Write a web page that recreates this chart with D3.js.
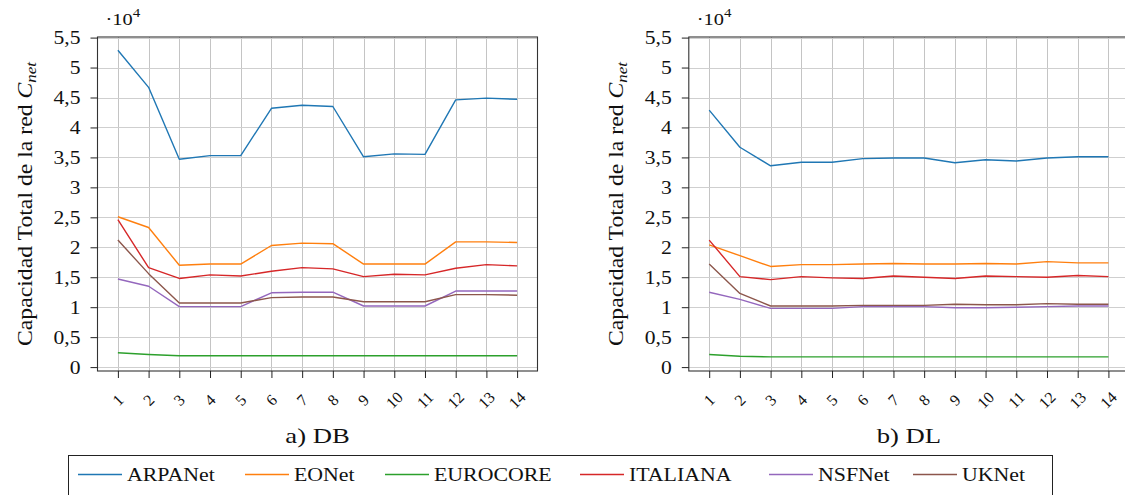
<!DOCTYPE html>
<html>
<head>
<meta charset="utf-8">
<script src="https://cdn.jsdelivr.net/npm/d3@7"></script>
<style>
  html, body { margin: 0; padding: 0; background: #ffffff; }
  svg { display: block; }
  text { fill: #111; font-family: "Liberation Serif", "Times New Roman", serif; }
</style>
</head>
<body>
<svg id="chart" width="1125" height="495"></svg>
<script>
// Run index on the x axis
const runs = [1, 2, 3, 4, 5, 6, 7, 8, 9, 10, 11, 12, 13, 14];
// y ticks, in units of 10^4
const yTickValues = [0, 0.5, 1, 1.5, 2, 2.5, 3, 3.5, 4, 4.5, 5, 5.5];
const yTickLabels = ["0", "0,5", "1", "1,5", "2", "2,5", "3", "3,5", "4", "4,5", "5", "5,5"];

const seriesNames = ["ARPANet", "EONet", "EUROCORE", "ITALIANA", "NSFNet", "UKNet"];
const seriesColors = ["#1f77b4", "#ff7f0e", "#2ca02c", "#d62728", "#9467bd", "#8c564b"];

// Total network capacity C_net (x 10^4), DB strategy
const dbARPANet  = [5.29, 4.67, 3.47, 3.53, 3.53, 4.32, 4.37, 4.35, 3.51, 3.56, 3.55, 4.46, 4.49, 4.47];
const dbEONet    = [2.51, 2.33, 1.70, 1.72, 1.72, 2.03, 2.07, 2.06, 1.72, 1.72, 1.72, 2.09, 2.09, 2.08];
const dbEUROCORE = [0.24, 0.21, 0.19, 0.19, 0.19, 0.19, 0.19, 0.19, 0.19, 0.19, 0.19, 0.19, 0.19, 0.19];
const dbITALIANA = [2.46, 1.66, 1.48, 1.54, 1.52, 1.60, 1.66, 1.64, 1.51, 1.55, 1.54, 1.65, 1.71, 1.69];
const dbNSFNet   = [1.47, 1.35, 1.01, 1.01, 1.01, 1.24, 1.25, 1.25, 1.02, 1.02, 1.02, 1.27, 1.27, 1.27];
const dbUKNet    = [2.12, 1.56, 1.07, 1.07, 1.07, 1.16, 1.17, 1.17, 1.09, 1.09, 1.09, 1.21, 1.21, 1.20];

// Total network capacity C_net (x 10^4), DL strategy
const dlARPANet  = [4.29, 3.67, 3.36, 3.42, 3.42, 3.48, 3.49, 3.49, 3.41, 3.46, 3.44, 3.49, 3.51, 3.51];
const dlEONet    = [2.04, 1.86, 1.68, 1.71, 1.71, 1.72, 1.73, 1.72, 1.72, 1.73, 1.72, 1.76, 1.74, 1.74];
const dlEUROCORE = [0.21, 0.18, 0.17, 0.17, 0.17, 0.17, 0.17, 0.17, 0.17, 0.17, 0.17, 0.17, 0.17, 0.17];
const dlITALIANA = [2.12, 1.51, 1.46, 1.51, 1.49, 1.48, 1.52, 1.50, 1.48, 1.52, 1.51, 1.50, 1.53, 1.51];
const dlNSFNet   = [1.25, 1.13, 0.98, 0.98, 0.98, 1.01, 1.01, 1.01, 0.99, 0.99, 1.00, 1.01, 1.02, 1.02];
const dlUKNet    = [1.72, 1.23, 1.02, 1.02, 1.02, 1.03, 1.03, 1.03, 1.05, 1.04, 1.04, 1.06, 1.05, 1.05];

const panelTitles = ["a) DB", "b) DL"];
const yAxisTitle = "Capacidad Total de la red ";

const panels = [
  { title: panelTitles[0], left: 97.5, series: [dbARPANet, dbEONet, dbEUROCORE, dbITALIANA, dbNSFNet, dbUKNet] },
  { title: panelTitles[1], left: 688.8, series: [dlARPANet, dlEONet, dlEUROCORE, dlITALIANA, dlNSFNet, dlUKNet] }
];

const svg = d3.select("#chart");
const plotW = 440, plotTop = 37, plotBottom = 371;
const pad = 0.664;
const FONT = '"Liberation Serif", "Times New Roman", serif';

panels.forEach(p => {
  const x = d3.scaleLinear().domain([runs[0] - pad, runs[runs.length - 1] + pad]).range([p.left, p.left + plotW]);
  const y = d3.scaleLinear().domain([-0.065, 5.51]).range([plotBottom, plotTop]);
  const g = svg.append("g");

  // grid
  g.append("g").selectAll("line").data(runs).join("line")
    .attr("x1", d => Math.round(x(d)) + 0.5).attr("x2", d => Math.round(x(d)) + 0.5)
    .attr("y1", plotTop).attr("y2", plotBottom)
    .attr("stroke", "#c4c4c4").attr("stroke-width", 1);
  g.append("g").selectAll("line").data(yTickValues).join("line")
    .attr("x1", x.range()[0]).attr("x2", x.range()[1])
    .attr("y1", d => Math.round(y(d)) + 0.5).attr("y2", d => Math.round(y(d)) + 0.5)
    .attr("stroke", "#cfcfcf").attr("stroke-width", 1);

  // series lines
  const line = d3.line().x((d, i) => x(runs[i])).y(d => y(d));
  p.series.forEach((vals, k) => {
    g.append("path").datum(vals).attr("d", line)
      .attr("fill", "none").attr("stroke", seriesColors[k]).attr("stroke-width", 1.4)
      .attr("stroke-linejoin", "round");
  });

  // frame
  g.append("rect")
    .attr("x", x.range()[0]).attr("y", plotTop)
    .attr("width", plotW).attr("height", plotBottom - plotTop)
    .attr("fill", "none").attr("stroke", "#333").attr("stroke-width", 1.1);

  // y axis
  const yAxis = d3.axisLeft(y).tickValues(yTickValues)
    .tickFormat((d, i) => yTickLabels[i]).tickSize(7);
  const ya = g.append("g").attr("transform", `translate(${x.range()[0]},0)`).call(yAxis);
  ya.select(".domain").remove();
  ya.selectAll(".tick line").attr("stroke", "#222");
  ya.selectAll(".tick text")
    .attr("x", 0).attr("dy", "0.34em")
    .attr("transform", "translate(-17,0) scale(1.2,1)")
    .attr("font-size", 18).attr("font-family", FONT).attr("fill", "#111");

  // x axis
  const xAxis = d3.axisBottom(x).tickValues(runs).tickSize(7).tickFormat("");
  const xa = g.append("g").attr("transform", `translate(0,${plotBottom})`).call(xAxis);
  xa.select(".domain").remove();
  xa.selectAll(".tick line").attr("stroke", "#222");
  g.append("g").selectAll("text").data(runs).join("text")
    .attr("transform", d => `translate(${x(d)},${400}) rotate(-45)`)
    .attr("text-anchor", "middle").attr("dominant-baseline", "central")
    .attr("font-size", 16).text(d => d);

  // exponent marker
  const ex = g.append("text")
    .attr("transform", `translate(${x.range()[0] + 8},25) scale(1.2,1)`)
    .attr("font-size", 17);
  ex.append("tspan").text("\u00b710");
  ex.append("tspan").attr("font-size", 12.5).attr("dy", -8).text("4");

  // y axis title
  const cy = (plotTop + plotBottom) / 2;
  const yt = g.append("text")
    .attr("transform", `translate(${p.left - 66},${cy}) rotate(-90) scale(1.13,1)`)
    .attr("text-anchor", "middle").attr("font-size", 21);
  yt.append("tspan").text(yAxisTitle);
  yt.append("tspan").attr("font-style", "italic").text("C");
  yt.append("tspan").attr("font-style", "italic").attr("font-size", 15).attr("dy", 4).text("net");

  // panel title
  g.append("text")
    .attr("transform", `translate(${p.left + plotW / 2},443) scale(1.3,1)`)
    .attr("text-anchor", "middle").attr("font-size", 20.5).text(p.title);
});

// legend
const legend = svg.append("g");
legend.append("rect").attr("x", 68.5).attr("y", 455.5).attr("width", 984).attr("height", 60)
  .attr("fill", "#fff").attr("stroke", "#222").attr("stroke-width", 1);
const legendX = [78, 245, 385, 580, 769, 913];
seriesNames.forEach((name, k) => {
  legend.append("line").attr("x1", legendX[k]).attr("x2", legendX[k] + 44)
    .attr("y1", 474.5).attr("y2", 474.5)
    .attr("stroke", seriesColors[k]).attr("stroke-width", 1.4);
  legend.append("text")
    .attr("transform", `translate(${legendX[k] + 49},481) scale(1.12,1)`)
    .attr("font-size", 19.5).text(name);
});
</script>
</body>
</html>
